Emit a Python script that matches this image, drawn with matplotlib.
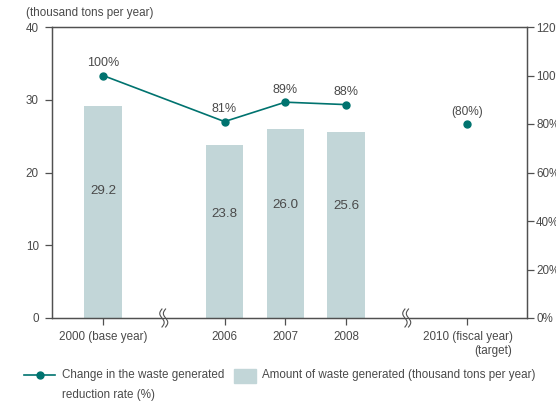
import numpy as np
import matplotlib
matplotlib.use("Agg")
import matplotlib.pyplot as plt
from matplotlib.lines import Line2D
from matplotlib.patches import Rectangle

plt.rcParams['font.family'] = ['Liberation Sans', 'DejaVu Sans']

# data
years = ["2000 (base year)", "2006", "2007", "2008", "2010 (fiscal year)\n(target)"]
waste = [29.2, 23.8, 26.0, 25.6]          # thousand tons per year (2000-2008)
rate = [100, 81, 89, 88]                   # reduction rate (%)
target_rate = 80                           # 2010 target (%)

# slot positions on the broken axis (gaps after 2000 and 2008)
slots = [0, 2, 3, 4, 6]
breaks = [1, 5]

text_c = '#4a4a4a'
spine_c = '#505050'
teal = '#00736f'
bar_c = '#c2d6d8'
fs = 8.4

W, H = 556, 401
fig = plt.figure(figsize=(W / 100, H / 100), dpi=100)
ax = fig.add_axes([52 / W, 1 - 318 / H, 475 / W, 291 / H])
ax2 = ax.twinx()

# bars
ax.bar(slots[:4], waste, width=0.61, color=bar_c, zorder=2)
for x, v in zip(slots[:4], waste):
    ax.text(x, v * 0.6, f"{v:.1f}", ha='center', va='center', fontsize=9.6, color=text_c, zorder=3)

# reduction rate line
ax2.plot(slots[:4], rate, color=teal, lw=1.2, marker='o', ms=5, zorder=4)
ax2.plot([slots[4]], [target_rate], color=teal, marker='o', ms=5, ls='none', zorder=4)
for x, r in zip(slots[:4], rate):
    ax2.annotate(f"{r}%", (x, r), xytext=(0, 9), textcoords='offset points',
                 ha='center', va='center', fontsize=9, color=text_c)
ax2.annotate(f"({target_rate}%)", (slots[4], target_rate), xytext=(0, 8.5), textcoords='offset points',
             ha='center', va='center', fontsize=8.6, color=text_c)

ax.set_xlim(-0.84, 6.98)
ax.set_ylim(0, 40)
ax2.set_ylim(0, 120)
ax.set_yticks([0, 10, 20, 30, 40])
ax2.set_yticks(range(0, 121, 20))
ax2.set_yticklabels([f"{v}%" for v in range(0, 121, 20)])
ax.set_xticks(slots)
ax.set_xticklabels(years)
ax.get_xticklabels()[-1].set_multialignment('right')

for a in (ax, ax2):
    for s in a.spines.values():
        s.set_color(spine_c)
        s.set_linewidth(0.9)
ax.tick_params(axis='x', direction='out', length=5, width=0.9, color=spine_c,
               labelcolor=text_c, labelsize=fs, pad=4.5)
ax.tick_params(axis='y', direction='out', length=5, width=0.9, color=spine_c,
               labelcolor=text_c, labelsize=8.4, pad=4.5)
ax2.tick_params(axis='y', direction='out', length=5, width=0.9, color=spine_c,
                labelcolor=text_c, labelsize=8.4, pad=1.5)

# axis break marks
t = np.linspace(-1, 1, 60)
ypx = 7.275          # px per left-axis unit
xpx = 60.7           # px per slot
for b in breaks:
    yy = t * 9 / ypx
    x1 = b + (-1.8 - 2.2 * np.sin(np.pi * t)) / xpx
    x2 = b + (1.8 - 2.2 * np.sin(np.pi * t)) / xpx
    ax.fill_betweenx(yy, x1, x2, color='white', zorder=5, clip_on=False)
    ax.plot(x1, yy, color=spine_c, lw=0.8, zorder=6, clip_on=False)
    ax.plot(x2, yy, color=spine_c, lw=0.8, zorder=6, clip_on=False)

fig.text(26 / W, 1 - 13 / H, "(thousand tons per year)", ha='left', va='center', fontsize=fs, color=text_c)

# legend
fig.add_artist(Line2D([24 / W, 55 / W], [1 - 375 / H] * 2, color=teal, lw=1.2))
fig.add_artist(Line2D([39.5 / W], [1 - 375 / H], color=teal, marker='o', ms=5))
fig.text(62 / W, 1 - 375 / H, "Change in the waste generated", ha='left', va='center', fontsize=fs, color=text_c)
fig.text(62 / W, 1 - 395 / H, "reduction rate (%)", ha='left', va='center', fontsize=fs, color=text_c)
fig.add_artist(Rectangle((234 / W, 1 - 383 / H), 22 / W, 14 / H, color=bar_c, transform=fig.transFigure))
fig.text(262 / W, 1 - 375 / H, "Amount of waste generated (thousand tons per year)", ha='left', va='center',
         fontsize=fs, color=text_c)

fig.savefig("out.png", dpi=100)
